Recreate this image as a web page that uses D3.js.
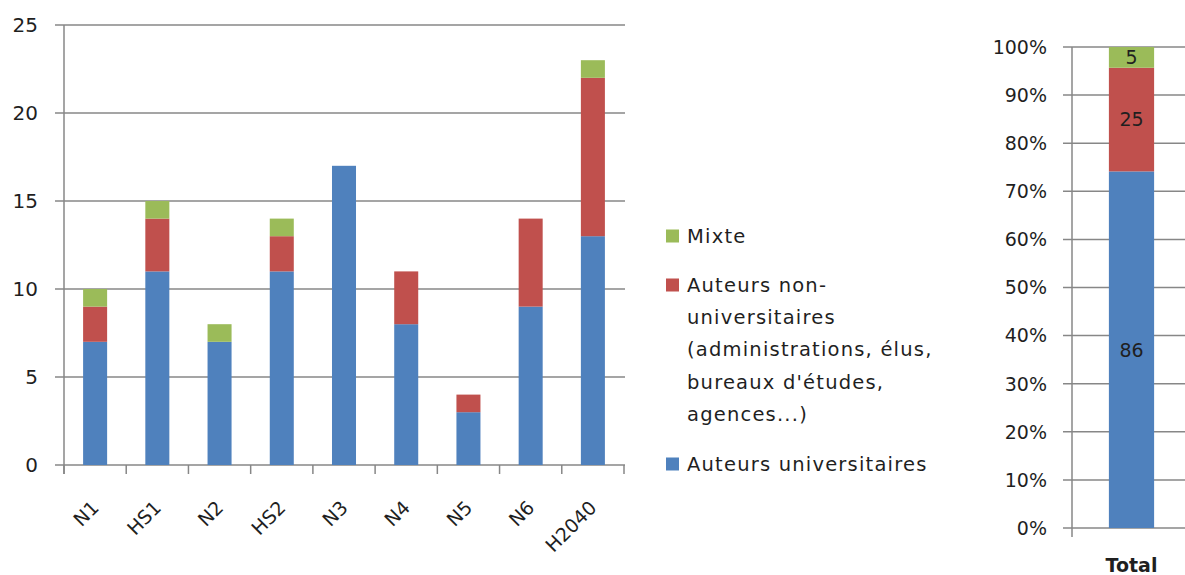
<!DOCTYPE html>
<html>
<head>
<meta charset="utf-8">
<script src="https://cdn.jsdelivr.net/npm/d3@7"></script>
<style>
  body { margin: 0; background: #fff; }
  svg text { font-family: "DejaVu Sans", Verdana, sans-serif; fill: #1f1f1f; }
</style>
</head>
<body>
<svg id="chart" width="1185" height="575"></svg>
<script>
// data
const categories = ["N1", "HS1", "N2", "HS2", "N3", "N4", "N5", "N6", "H2040"];
const univ    = [7, 11, 7, 11, 17, 8, 3, 9, 13];
const nonUniv = [2, 3, 0, 2, 0, 3, 1, 5, 9];
const mixte   = [1, 1, 1, 1, 0, 0, 0, 0, 1];
const yTicks = [0, 5, 10, 15, 20, 25];
const pctTicks = [0, 0.1, 0.2, 0.3, 0.4, 0.5, 0.6, 0.7, 0.8, 0.9, 1];

const keys = ["univ", "nonUniv", "mixte"];
const colors = { univ: "#4f81bd", nonUniv: "#c0504d", mixte: "#9bbb59" };
const legendItems = [
  { key: "mixte", lines: ["Mixte"] },
  { key: "nonUniv", lines: ["Auteurs non-", "universitaires", "(administrations, élus,", "bureaux d'études,", "agences...)"] },
  { key: "univ", lines: ["Auteurs universitaires"] }
];

const rows = categories.map((c, i) => ({ cat: c, univ: univ[i], nonUniv: nonUniv[i], mixte: mixte[i] }));
const totalRow = { cat: "Total", univ: d3.sum(univ), nonUniv: d3.sum(nonUniv), mixte: d3.sum(mixte) };

const svg = d3.select('#chart');
const gridColor = "#878787";

/* ---------- left chart: counts ---------- */
(function() {
  const left = 64, right = 624, top = 25, bottom = 465;

  const y = d3.scaleLinear().domain([0, 25]).range([bottom, top]);
  const x = d3.scaleBand().domain(categories).range([left, right])
    .paddingInner(0.614).paddingOuter(0.307);

  const g = svg.append('g');

  // gridlines + tick marks on the left
  g.selectAll('line.grid')
    .data(yTicks)
    .enter().append('line')
      .attr('x1', left - 9).attr('x2', right + 1)
      .attr('y1', d => y(d)).attr('y2', d => y(d))
      .attr('stroke', gridColor).attr('stroke-width', 1.5);

  g.selectAll('text.ylab')
    .data(yTicks)
    .enter().append('text')
      .attr('x', 38).attr('y', d => y(d))
      .attr('dy', '0.36em')
      .attr('text-anchor', 'end')
      .style('font-size', '20px')
      .text(d => d);

  // axis line
  g.append('line').attr('x1', left).attr('x2', left).attr('y1', top).attr('y2', bottom + 9)
    .attr('stroke', gridColor).attr('stroke-width', 1.5);

  // category boundary ticks
  g.selectAll('line.xtick')
    .data(d3.range(categories.length + 1))
    .enter().append('line')
      .attr('x1', i => left + i * x.step()).attr('x2', i => left + i * x.step())
      .attr('y1', bottom).attr('y2', bottom + 9)
      .attr('stroke', gridColor).attr('stroke-width', 1.5);

  const series = d3.stack().keys(keys)(rows);

  g.selectAll('g.series')
    .data(series)
    .enter().append('g')
      .attr('fill', d => colors[d.key])
    .selectAll('rect')
      .data(d => d)
    .enter().append('rect')
      .attr('x', d => x(d.data.cat))
      .attr('width', x.bandwidth())
      .attr('y', d => y(d[1]))
      .attr('height', d => y(d[0]) - y(d[1]));

  // rotated category labels
  g.selectAll('text.xlab')
    .data(categories)
    .enter().append('text')
      .attr('text-anchor', 'end')
      .attr('transform', d => `translate(${x(d) + x.bandwidth() / 2 + 5},${bottom + 44}) rotate(-45)`)
      .style('font-size', '19px')
      .text(d => d);
})();

/* ---------- legend ---------- */
(function() {
  const lg = svg.append('g');
  const starts = [236, 285, 464]; // vertical centre of each entry's first line
  const lineH = 32.2;

  legendItems.forEach((item, i) => {
    lg.append('rect')
      .attr('x', 666).attr('y', starts[i] - 6.5)
      .attr('width', 13).attr('height', 13)
      .attr('fill', colors[item.key]);
    lg.append('text')
      .attr('x', 687).attr('y', starts[i])
      .style('font-size', '19.5px')
      .style('letter-spacing', '1.2px')
    .selectAll('tspan')
      .data(item.lines)
      .enter().append('tspan')
        .attr('x', 687)
        .attr('dy', (d, j) => j === 0 ? '0.36em' : lineH)
        .text(d => d);
  });
})();

/* ---------- right chart: 100% total ---------- */
(function() {
  const left = 1072, right = 1191, top = 47, bottom = 528;

  const y = d3.scaleLinear().domain([0, 1]).range([bottom, top]);
  const x = d3.scaleBand().domain(["Total"]).range([left, right])
    .paddingInner(0.62).paddingOuter(0.31);

  const g = svg.append('g');

  g.selectAll('line.grid')
    .data(pctTicks)
    .enter().append('line')
      .attr('x1', left - 9).attr('x2', 1185)
      .attr('y1', d => y(d)).attr('y2', d => y(d))
      .attr('stroke', gridColor).attr('stroke-width', 1.5);

  g.selectAll('text.ylab')
    .data(pctTicks)
    .enter().append('text')
      .attr('x', 1047).attr('y', d => y(d))
      .attr('dy', '0.36em')
      .attr('text-anchor', 'end')
      .style('font-size', '19px')
      .text(d3.format('.0%'));

  g.append('line').attr('x1', left).attr('x2', left).attr('y1', top).attr('y2', bottom + 9)
    .attr('stroke', gridColor).attr('stroke-width', 1.5);

  const series = d3.stack().keys(keys).offset(d3.stackOffsetExpand)([totalRow]);

  const seg = g.selectAll('g.series')
    .data(series)
    .enter().append('g');

  seg.selectAll('rect')
    .data(d => d)
    .enter().append('rect')
      .attr('x', d => x(d.data.cat))
      .attr('width', x.bandwidth())
      .attr('y', d => y(d[1]))
      .attr('height', d => y(d[0]) - y(d[1]))
      .attr('fill', function() { return colors[d3.select(this.parentNode).datum().key]; });

  // value labels inside segments
  seg.append('text')
    .attr('x', d => x(d[0].data.cat) + x.bandwidth() / 2)
    .attr('y', d => (y(d[0][0]) + y(d[0][1])) / 2)
    .attr('dy', '0.36em')
    .attr('text-anchor', 'middle')
    .style('font-size', '19px')
    .text(d => d[0].data[d.key]);

  g.append('text')
    .attr('x', x("Total") + x.bandwidth() / 2)
    .attr('y', 565)
    .attr('dy', '0.36em')
    .attr('text-anchor', 'middle')
    .style('font-size', '19px')
    .style('font-weight', 'bold')
    .text("Total");
})();
</script>
</body>
</html>
